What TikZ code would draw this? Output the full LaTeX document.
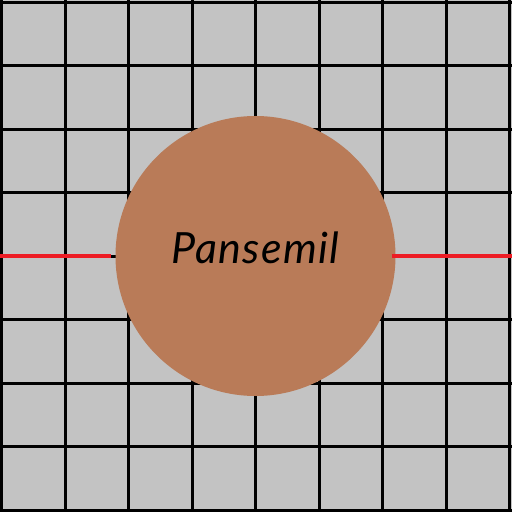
\documentclass[tikz,border=0pt]{standalone}
\usepackage{fontspec}
\setmainfont{Lato}
\usetikzlibrary{positioning}
\definecolor{gridbg}{HTML}{C3C3C3}
\definecolor{discbrown}{HTML}{B97B58}
\definecolor{wirered}{HTML}{ED1C24}

\begin{document}
\begin{tikzpicture}[x=1pt, y=1pt,
      gridline/.style={line width=3pt, black},
      core/.style={circle, fill=discbrown, minimum size=280pt, inner sep=0pt, text depth=17pt,
        font=\fontsize{43}{50}\selectfont\itshape\addfontfeatures{LetterSpace=3}},
      wire/.style={line width=4pt, wirered}
    ]
    \fill[gridbg] (0,0) rectangle (512,512);
    \useasboundingbox (0,0) rectangle (512,512);
    \foreach \k in {0,...,8} {
      \draw[gridline] ({1.5+63.5*\k},0) -- ({1.5+63.5*\k},512);
      \draw[gridline] (0,{1.5+63.5*\k}) -- (512,{1.5+63.5*\k});
    }
    \node[core] (pansemil) at (255.5,256) {Pansemil};
    \coordinate (leftend) at (0,256);
    \coordinate (rightend) at (512,256);
    \draw[wire] (leftend) -- ([xshift=-4pt]pansemil.west);
    \draw[wire] ([xshift=-4pt]pansemil.east) -- (rightend);
  \end{tikzpicture}
\end{document}
